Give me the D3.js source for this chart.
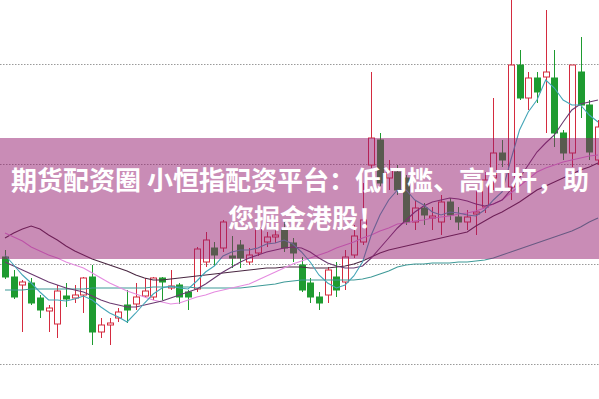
<!DOCTYPE html>
<html><head><meta charset="utf-8">
<script src="https://cdn.jsdelivr.net/npm/d3@7"></script>
<style>html,body{margin:0;padding:0;background:#fff;overflow:hidden}</style>
</head><body><svg id="c" width="599" height="399"></svg>
<script>
// ---- data ----
const days = d3.range(69);
const gridLevels = [8, 9, 10, 11];
const opens  = [9.07,8.87,8.79,8.81,8.66,8.53,8.40,8.68,8.66,8.69,8.87,8.32,8.39,8.46,8.59,8.60,8.68,8.67,8.86,8.76,8.79,8.72,8.75,9.02,9.16,9.16,9.08,9.19,9.02,9.11,9.22,9.27,9.34,9.21,8.99,8.81,8.67,8.69,8.87,8.82,9.09,9.22,9.99,10.24,9.86,9.92,9.86,9.42,9.56,9.46,9.42,9.62,9.47,9.42,9.50,9.57,9.86,10.11,9.77,10.99,10.66,10.86,10.87,10.86,10.31,10.11,10.92,10.59,10.04];
const closes = [8.87,8.67,8.82,8.61,8.54,8.56,8.73,8.65,8.69,8.86,8.32,8.39,8.41,8.52,8.54,8.67,8.73,8.86,8.82,8.78,8.67,8.67,9.15,9.24,9.09,9.42,9.06,9.06,9.09,9.36,9.27,9.29,9.16,9.11,8.74,8.67,8.61,8.94,8.74,9.07,9.28,9.44,10.26,9.81,9.94,9.74,9.42,9.56,9.49,9.48,9.62,9.49,9.42,9.47,9.52,9.84,10.11,10.04,10.99,10.66,10.86,10.72,10.92,10.31,10.11,10.99,10.59,10.12,10.37];
const highs  = [9.14,8.94,8.84,8.86,8.69,8.59,8.79,8.81,8.79,8.87,8.99,8.46,8.46,8.56,8.74,8.81,8.86,8.87,8.87,8.94,8.81,8.74,9.17,9.32,9.22,9.44,9.28,9.24,9.16,9.42,9.32,9.34,9.42,9.26,9.07,8.86,8.72,8.97,9.02,9.14,9.39,9.81,10.92,10.31,10.04,9.99,9.89,9.64,9.61,9.57,9.69,9.66,9.57,9.54,9.76,9.92,10.66,10.24,11.70,11.14,10.92,10.92,11.54,11.14,10.34,10.99,11.27,10.64,10.44];
const lows   = [8.85,8.65,8.32,8.59,8.46,8.32,8.26,8.57,8.61,8.51,8.19,8.26,8.19,8.42,8.41,8.54,8.67,8.64,8.64,8.74,8.60,8.54,8.72,8.97,8.98,9.12,8.96,8.96,8.99,9.08,9.17,9.21,9.12,9.02,8.72,8.61,8.54,8.61,8.67,8.74,9.06,9.19,9.96,9.78,9.74,9.69,9.39,9.34,9.39,9.34,9.29,9.44,9.34,9.34,9.29,9.51,9.74,9.97,9.64,10.64,10.54,10.61,10.31,10.17,10.04,9.97,10.46,10.04,9.99];
const ma5  = [9.09,8.99,8.89,8.81,8.72,8.64,8.64,8.63,8.65,8.68,8.64,8.57,8.51,8.47,8.42,8.51,8.61,8.70,8.76,8.78,8.76,8.75,8.83,8.92,8.98,9.08,9.12,9.14,9.14,9.16,9.20,9.21,9.24,9.20,9.12,9.02,8.89,8.81,8.76,8.79,8.88,9.02,9.29,9.49,9.64,9.74,9.74,9.64,9.59,9.52,9.49,9.52,9.51,9.49,9.48,9.54,9.64,9.72,10.04,10.34,10.52,10.64,10.84,10.76,10.64,10.59,10.59,10.49,10.42];
const ma10 = [9.02,8.98,8.94,8.90,8.86,8.82,8.79,8.76,8.74,8.72,8.68,8.64,8.61,8.59,8.57,8.57,8.59,8.61,8.63,8.66,8.69,8.72,8.75,8.80,8.86,8.92,8.97,9.02,9.06,9.09,9.12,9.14,9.16,9.17,9.16,9.12,9.06,9.01,8.98,8.96,8.96,8.98,9.06,9.16,9.26,9.36,9.44,9.52,9.58,9.62,9.64,9.66,9.65,9.63,9.60,9.58,9.60,9.64,9.74,9.86,9.99,10.12,10.21,10.29,10.42,10.54,10.60,10.62,10.64];
const ma20 = [9.31,9.27,9.23,9.17,9.13,9.09,9.06,9.02,8.99,8.96,8.91,8.86,8.81,8.77,8.73,8.70,8.67,8.64,8.62,8.60,8.61,8.64,8.67,8.69,8.72,8.74,8.76,8.78,8.80,8.84,8.88,8.92,8.96,9.00,9.03,9.06,9.09,9.12,9.16,9.19,9.22,9.26,9.29,9.33,9.36,9.40,9.41,9.43,9.44,9.46,9.47,9.48,9.50,9.51,9.53,9.56,9.60,9.64,9.71,9.78,9.85,9.92,9.96,9.99,10.02,10.04,10.06,10.08,10.09];
const ma30 = [9.26,9.31,9.35,9.38,9.35,9.29,9.24,9.18,9.13,9.09,9.05,9.02,8.99,8.96,8.93,8.89,8.86,8.84,8.84,8.85,8.86,8.87,8.88,8.89,8.90,8.91,8.92,8.93,8.94,8.95,8.96,8.96,8.97,8.97,8.97,8.96,8.96,8.96,8.97,8.98,9.00,9.03,9.07,9.11,9.14,9.16,9.18,9.20,9.22,9.24,9.26,9.28,9.30,9.32,9.38,9.43,9.48,9.52,9.57,9.62,9.68,9.74,9.78,9.82,9.86,9.90,9.94,9.97,10.01];
const ma60 = [8.74,8.74,8.74,8.75,8.75,8.75,8.75,8.75,8.75,8.75,8.76,8.76,8.76,8.76,8.76,8.76,8.76,8.77,8.77,8.77,8.77,8.77,8.76,8.76,8.76,8.76,8.76,8.76,8.77,8.78,8.79,8.80,8.82,8.83,8.84,8.84,8.84,8.84,8.84,8.84,8.84,8.85,8.87,8.90,8.93,8.97,8.99,9.00,9.00,9.01,9.01,9.01,9.02,9.02,9.03,9.04,9.06,9.09,9.12,9.15,9.18,9.21,9.24,9.27,9.30,9.33,9.37,9.42,9.46];
const bannerLines = ["期货配资圈 小恒指配资平台：低门槛、高杠杆，助", "您掘金港股！"];

// ---- drawing ----
const W = 599, H = 399;
const svg = d3.select('#c');
const x = d3.scaleLinear().domain([0, days.length - 1]).range([5, 598]);
const y = d3.scaleLinear().domain([8, 11]).range([364, 64]);
const RED = '#d42b3f', GREEN = '#1e9b30';

svg.append('rect').attr('width', W).attr('height', H).attr('fill', '#fff');

svg.append('g').selectAll('line').data(gridLevels).join('line')
  .attr('x1', 0).attr('x2', W)
  .attr('y1', d => Math.round(y(d)) + 0.5).attr('y2', d => Math.round(y(d)) + 0.5)
  .attr('stroke', '#9a9a9a').attr('stroke-width', 1).attr('stroke-dasharray', '1.5,1.5');

const candles = days.map(i => ({i, o: opens[i], c: closes[i], h: highs[i], l: lows[i]}));
const cg = svg.append('g');
const bw = 6;
candles.forEach(d => {
  const up = d.c >= d.o;
  const col = up ? RED : GREEN;
  const cx = Math.round(x(d.i)) + 0.5;
  cg.append('line').attr('x1', cx).attr('x2', cx)
    .attr('y1', y(d.h)).attr('y2', y(d.l))
    .attr('stroke', col).attr('stroke-width', 1);
  const top = y(Math.max(d.o, d.c)), bot = y(Math.min(d.o, d.c));
  cg.append('rect')
    .attr('x', cx - bw / 2).attr('y', top)
    .attr('width', bw).attr('height', Math.max(1, bot - top))
    .attr('fill', up ? '#fff' : GREEN)
    .attr('stroke', col).attr('stroke-width', 1);
});

const series = [
  {v: ma60, c: '#3f9a98'},
  {v: ma30, c: '#4a2842'},
  {v: ma20, c: '#e58be0'},
  {v: ma10, c: '#6a3a70'},
  {v: ma5,  c: '#45a6b8'}
];
const line = d3.line().x((d, i) => x(i)).y(d => y(d)).curve(d3.curveLinear);
svg.append('g').selectAll('path').data(series).join('path')
  .attr('d', s => line(s.v)).attr('fill', 'none')
  .attr('stroke', s => s.c).attr('stroke-width', 1.1);

// banner overlay
svg.append('rect').attr('x', 0).attr('y', 138).attr('width', W).attr('height', 121)
  .attr('fill', 'rgb(147,25,109)').attr('opacity', 0.5);

const tg = svg.append('g').attr('fill', '#fff')
  .attr('font-family', '"Noto Sans CJK SC", "Noto Sans", sans-serif')
  .attr('font-weight', 'bold').attr('font-size', 26);
tg.append('text').attr('x', 300).attr('y', 190).attr('text-anchor', 'middle').text(bannerLines[0]);
tg.append('text').attr('x', 306).attr('y', 228).attr('text-anchor', 'middle').text(bannerLines[1]);
</script></body></html>
